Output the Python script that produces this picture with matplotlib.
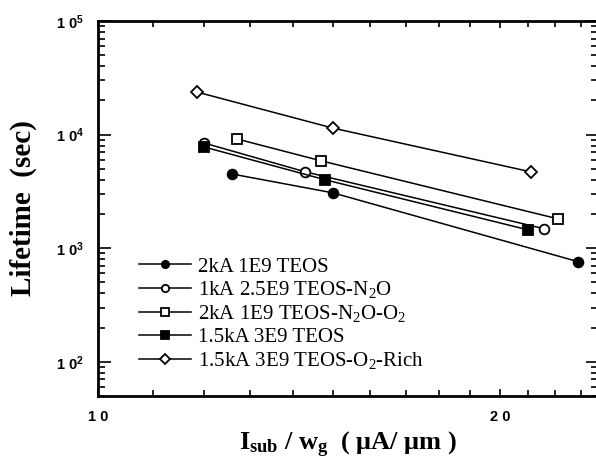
import matplotlib
matplotlib.use('Agg')
import matplotlib.pyplot as plt
from matplotlib.ticker import FixedLocator, NullFormatter, LogLocator

plt.rcParams['mathtext.default'] = 'regular'

# Isub/Wg (uA/um) and lifetime (sec)
x_teos_2k = [12.6, 15.0, 22.9]
y_teos_2k = [4500, 3070, 760]

x_n2o_1k = [12.0, 14.3, 21.6]
y_n2o_1k = [8450, 4700, 1480]

x_n2o_o2_2k = [12.7, 14.7, 22.1]
y_n2o_o2_2k = [9170, 5870, 1815]

x_teos_15k = [12.0, 14.8, 21.0]
y_teos_15k = [7800, 4000, 1450]

x_o2rich_15k = [11.86, 15.0, 21.1]
y_o2rich_15k = [23700, 11400, 4700]

labels = [
    '2kA 1E9 TEOS',
    '1kA 2.5E9 TEOS-N$_2$O',
    '2kA 1E9 TEOS-N$_2$O-O$_2$',
    '1.5kA 3E9 TEOS',
    '1.5kA 3E9 TEOS-O$_2$-Rich',
]

fig = plt.figure(figsize=(5.96, 4.70), dpi=100)
ax = fig.add_axes([98 / 596, 1 - 396 / 470, 500 / 596, 375 / 470])

ink = 'black'
series = [
    (x_teos_2k, y_teos_2k, 'o', ink),
    (x_n2o_1k, y_n2o_1k, 'o', 'white'),
    (x_n2o_o2_2k, y_n2o_o2_2k, 's', 'white'),
    (x_teos_15k, y_teos_15k, 's', ink),
    (x_o2rich_15k, y_o2rich_15k, 'D', 'white'),
]
for (xs, ys, m, fc), lab in zip(series, labels):
    ms = 7 if m != 'D' else 6.5
    ax.plot(xs, ys, color=ink, lw=1.1, marker=m, ms=ms,
            mfc=fc, mec=ink, mew=1.3, label=lab)

ax.set_xscale('log')
ax.set_yscale('log')
ax.set_xlim(10, 23.69)
ax.set_ylim(50, 1e5)

ax.xaxis.set_major_locator(FixedLocator([10, 20]))
ax.xaxis.set_minor_locator(FixedLocator([11, 12, 13, 14, 15, 16, 17, 18, 19, 21, 22, 23]))
ax.set_xticklabels(['1 0', '2 0'])
ax.xaxis.set_minor_formatter(NullFormatter())

ax.yaxis.set_major_locator(FixedLocator([1e2, 1e3, 1e4, 1e5]))
ax.yaxis.set_minor_locator(LogLocator(base=10, subs=range(2, 10)))
ax.yaxis.set_minor_formatter(NullFormatter())
ax.set_yticklabels(['1 0$^2$', '1 0$^3$', '1 0$^4$', '1 0$^5$'])

for lab in ax.get_xticklabels() + ax.get_yticklabels():
    lab.set_fontfamily('Liberation Sans')
    lab.set_fontweight('bold')
    lab.set_fontsize(10.5)

ax.tick_params(which='both', direction='in', top=True, right=True, width=1.2)
ax.tick_params(which='major', axis='y', length=9, pad=10)
ax.tick_params(which='minor', axis='y', length=5)
ax.tick_params(which='major', axis='x', length=5, pad=10)
ax.tick_params(which='minor', axis='x', length=4)

for sp in ax.spines.values():
    sp.set_linewidth(2)

ax.set_ylabel('Lifetime  (sec)', fontfamily='Liberation Serif',
              fontweight='bold', fontsize=21, labelpad=14)
ax.set_xlabel('I$_{sub}$ / w$_{g}$  ( μA/ μm )', fontfamily='Liberation Serif',
              fontweight='bold', fontsize=19, labelpad=4)

leg = ax.legend(loc='lower left', bbox_to_anchor=(0.065, 0.045), frameon=False,
                prop={'family': 'Liberation Serif', 'size': 15},
                handlelength=2.5, handletextpad=0.35, labelspacing=0.14,
                markerscale=0.75, borderaxespad=0)

fig.savefig('out.png', dpi=100, facecolor='white')
